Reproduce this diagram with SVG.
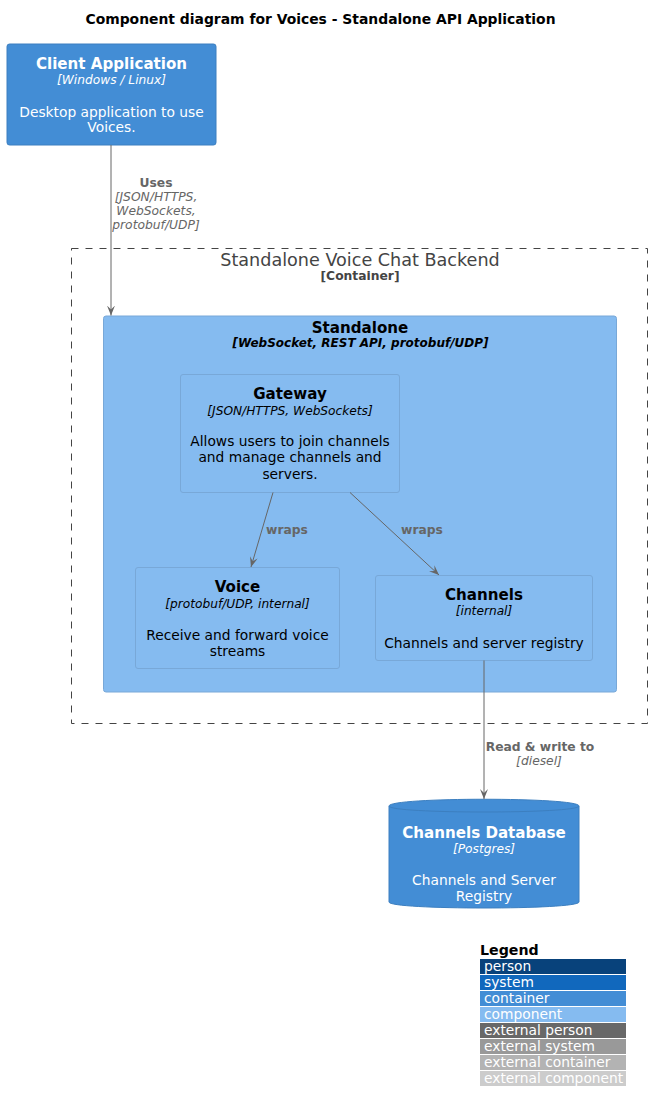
<svg xmlns="http://www.w3.org/2000/svg" width="653" height="1111" viewBox="0 0 653 1111">
<defs>
<style>
text{font-family:"DejaVu Sans","Liberation Sans",sans-serif;text-anchor:middle}
.ttl{font-weight:bold;font-size:15.1px}
.tech{font-style:italic;font-size:12.2px}
.desc{font-size:13.8px}
.w{fill:#FFFFFF}
.k{fill:#000000}
.lbl{font-weight:bold;font-size:12.3px;fill:#666666}
.lblt{font-style:italic;font-size:12.3px;fill:#666666}
.comp{fill:#85BBF0;stroke:#78A8D8;stroke-width:1}
.cont{fill:#438DD5;stroke:#3C7FC0;stroke-width:1}
.conn{stroke:#666666;stroke-width:1;fill:none}
.leg{font-size:13.8px;fill:#FFFFFF;text-anchor:start}
</style>
<marker id="ah" viewBox="0 0 10 8" refX="10" refY="4" markerWidth="10" markerHeight="8" markerUnits="userSpaceOnUse" orient="auto">
<path d="M0,0 L10,4 L0,8 L4,4 z" fill="#666666"/>
</marker>
</defs>
<rect width="653" height="1111" fill="#FFFFFF"/>
<text x="320.5" y="23.5" style="font-weight:bold;font-size:13.9px" fill="#000000">Component diagram for Voices - Standalone API Application</text>

<g id="client">
<rect x="7" y="44" width="209" height="101" rx="2.5" class="cont"/>
<text x="111.5" y="68.5" class="ttl w">Client Application</text>
<text x="111.5" y="83.5" class="tech w">[Windows / Linux]</text>
<text x="111.5" y="116.5" class="desc w">Desktop application to use</text>
<text x="111.5" y="131.5" class="desc w">Voices.</text>
</g>

<g id="backend">
<rect x="71.5" y="248.5" width="576" height="475" fill="none" stroke="#444444" stroke-width="1" stroke-dasharray="7,7"/>
<text x="360" y="265.5" style="font-size:17.6px" fill="#444444">Standalone Voice Chat Backend</text>
<text x="360" y="279.5" style="font-weight:bold;font-size:12.3px" fill="#444444">[Container]</text>
</g>

<g id="standalone">
<rect x="103.5" y="316" width="513" height="376" rx="2.5" class="comp"/>
<text x="360" y="332.5" class="ttl k">Standalone</text>
<text x="360.5" y="346.5" style="font-weight:bold;font-style:italic;font-size:12px" fill="#000000">[WebSocket, REST API, protobuf/UDP]</text>
</g>

<g id="gateway">
<rect x="180.5" y="374.5" width="219" height="118" rx="2.5" class="comp"/>
<text x="290" y="398.5" class="ttl k">Gateway</text>
<text x="290" y="414.5" class="tech k">[JSON/HTTPS, WebSockets]</text>
<text x="290" y="445.5" class="desc k">Allows users to join channels</text>
<text x="290" y="462" class="desc k">and manage channels and</text>
<text x="290" y="478.5" class="desc k">servers.</text>
</g>

<g id="voice">
<rect x="135.5" y="567.5" width="204" height="101" rx="2.5" class="comp"/>
<text x="237.5" y="591.5" class="ttl k">Voice</text>
<text x="237.5" y="607.5" class="tech k">[protobuf/UDP, internal]</text>
<text x="237.5" y="639.5" class="desc k">Receive and forward voice</text>
<text x="237.5" y="655.5" class="desc k">streams</text>
</g>

<g id="channels">
<rect x="375.5" y="575.5" width="217" height="85" rx="2.5" class="comp"/>
<text x="484" y="599.5" class="ttl k">Channels</text>
<text x="484" y="614.5" class="tech k">[internal]</text>
<text x="484" y="647.5" class="desc k">Channels and server registry</text>
</g>

<g id="database">
<path d="M389,806 C389,797 579,797 579,806 L579,902 C579,910 389,910 389,902 Z" class="cont"/>
<path d="M389,806 C389,814 579,814 579,806" fill="none" stroke="#3C7FC0" stroke-width="1"/>
<text x="484" y="837.5" class="ttl w">Channels Database</text>
<text x="484" y="852.5" class="tech w">[Postgres]</text>
<text x="484" y="884.5" class="desc w">Channels and Server</text>
<text x="484" y="901" class="desc w">Registry</text>
</g>

<g id="connectors">
<line x1="111" y1="145" x2="111" y2="315.5" class="conn" marker-end="url(#ah)"/>
<text x="156" y="187" class="lbl">Uses</text>
<text x="156" y="201" class="lblt">[JSON/HTTPS,</text>
<text x="156" y="215" class="lblt">WebSockets,</text>
<text x="156" y="229" class="lblt">protobuf/UDP]</text>

<line x1="273" y1="492.5" x2="251" y2="567" class="conn" marker-end="url(#ah)"/>
<text x="287" y="534" class="lbl">wraps</text>

<line x1="350" y1="492.5" x2="439" y2="575" class="conn" marker-end="url(#ah)"/>
<text x="422" y="534" class="lbl">wraps</text>

<line x1="484" y1="660.5" x2="484" y2="799" class="conn" marker-end="url(#ah)"/>
<text x="540" y="751" class="lbl">Read &amp; write to</text>
<text x="539" y="765" class="lblt">[diesel]</text>
</g>

<g id="legend">
<text x="480" y="954.5" style="font-weight:bold;font-size:14.2px;text-anchor:start" fill="#000000">Legend</text>
<rect x="480" y="959" width="146" height="15" fill="#08427B"/>
<text x="484" y="971" class="leg">person</text>
<rect x="480" y="975" width="146" height="15" fill="#1168BD"/>
<text x="484" y="987" class="leg">system</text>
<rect x="480" y="991" width="146" height="15" fill="#438DD5"/>
<text x="484" y="1003" class="leg">container</text>
<rect x="480" y="1007" width="146" height="15" fill="#85BBF0"/>
<text x="484" y="1019" class="leg">component</text>
<rect x="480" y="1023" width="146" height="15" fill="#686868"/>
<text x="484" y="1035" class="leg">external person</text>
<rect x="480" y="1039" width="146" height="15" fill="#999999"/>
<text x="484" y="1051" class="leg">external system</text>
<rect x="480" y="1055" width="146" height="15" fill="#B3B3B3"/>
<text x="484" y="1067" class="leg">external container</text>
<rect x="480" y="1071" width="146" height="15" fill="#CCCCCC"/>
<text x="484" y="1083" class="leg">external component</text>
</g>
</svg>
